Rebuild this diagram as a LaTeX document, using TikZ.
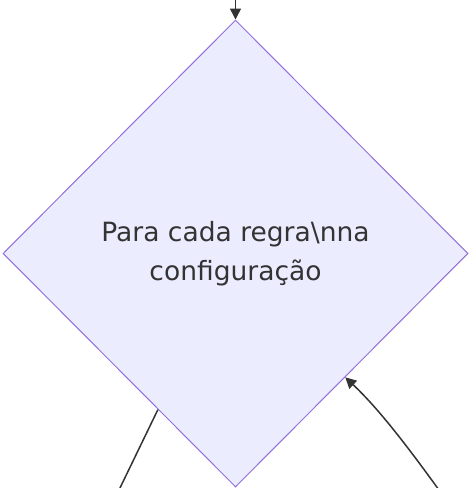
\documentclass[tikz,border=0pt]{standalone}
\usepackage{fontspec}
\setmainfont{DejaVu Sans}
\usetikzlibrary{shapes.geometric,arrows.meta}
\definecolor{nodefill}{HTML}{ECECFF}
\definecolor{nodeline}{HTML}{9370DB}
\definecolor{edgecol}{HTML}{333333}
\definecolor{textcol}{HTML}{333333}
\tikzset{
  decision/.style={diamond, aspect=1, draw=nodeline, fill=nodefill, line width=1pt, inner sep=0pt,
    minimum width=465pt, minimum height=467pt, text=textcol, align=center,
    font=\fontsize{26.5pt}{39pt}\selectfont},
  edge/.style={draw=edgecol, line width=1.5pt},
  arr/.style={edge, -{Triangle[length=11pt,width=11pt]}}
}
\begin{document}
\begin{tikzpicture}[x=1pt,y=-1pt]
\useasboundingbox (0,0) rectangle (470,488);
\node[decision] (d) at (235.5,253.5) {Para cada regra\textbackslash nna\\configuração};
\coordinate (topin) at (235.5,-2);
\coordinate (leftout) at (119,490);
\coordinate (rightin) at (439,490);
\draw[arr] (topin) -- (d.north);
\path (d.west) -- (d.south) coordinate[pos=0.667] (lstart);
\draw[edge] (lstart) -- (leftout);
\path (d.east) -- (d.south) coordinate[pos=0.529] (rend);
\draw[arr] (rightin) .. controls (410,450) and (380,410) .. (rend);
\end{tikzpicture}
\end{document}
